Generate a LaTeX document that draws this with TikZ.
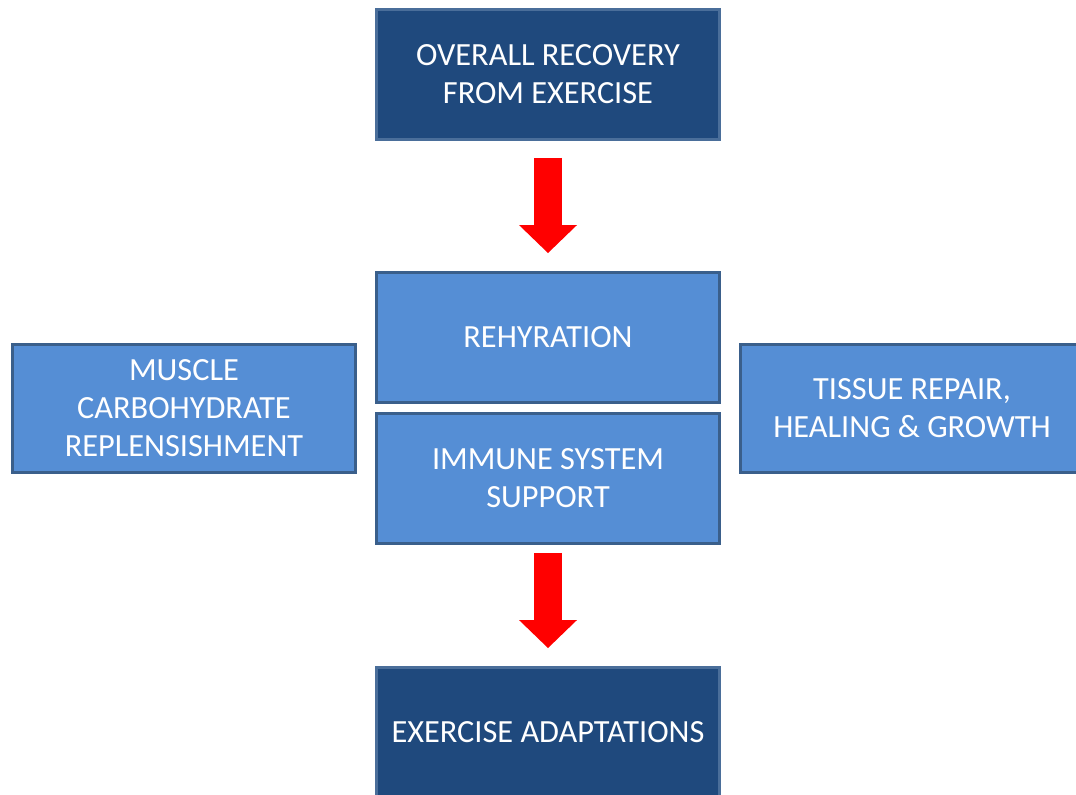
\documentclass[tikz,border=0pt]{standalone}
\usepackage{fontspec}
\setmainfont{Carlito}
\usetikzlibrary{arrows.meta, positioning}
\definecolor{boxdark}{HTML}{1F497D}
\definecolor{boxlight}{HTML}{558ED5}
\definecolor{boxedge}{HTML}{3A5F8B}
\definecolor{darkedge}{HTML}{4A6E9A}

\begin{document}
\begin{tikzpicture}[line width=2.1pt]
			\tikzstyle{stagebox}=[rectangle, draw=boxedge, fill=boxlight, text=white, align=center,
				minimum width=8.575cm, minimum height=3.25cm, inner sep=0pt,
				font=\fontsize{23}{27}\selectfont]
			\tikzstyle{endbox}=[stagebox, fill=boxdark, draw=darkedge]
			\tikzstyle{redarrow}=[draw=red, line width=0.7cm,
				-{Triangle[width=1.45cm, length=0.7cm, line width=0pt, fill=red]}]

			\clip (0,0) rectangle (26.9,19.85);
			\useasboundingbox (0,0) rectangle (26.9,19.85);

			\node[endbox] (recovery) at (13.7,17.9875) {OVERALL RECOVERY\\FROM EXERCISE};
			\node[stagebox] (rehydration) at (13.7,11.4125) {REHYRATION};
			\node[stagebox] (immune) at (13.7,7.8875) {IMMUNE SYSTEM\\SUPPORT};
			\node[stagebox, minimum height=3.2cm] (muscle) at (4.6,9.6375) {MUSCLE\\CARBOHYDRATE\\REPLENSISHMENT};
			\node[stagebox, minimum height=3.2cm] (tissue) at (22.8,9.6375) {TISSUE REPAIR,\\HEALING \& GROWTH};
			\node[endbox] (adaptations) at (13.7,1.5375) {EXERCISE ADAPTATIONS};

			\path[redarrow]
			(recovery) edge[shorten <=0.425cm, shorten >=0.45cm] (rehydration)
			(immune) edge[shorten <=0.2cm, shorten >=0.45cm] (adaptations);
		\end{tikzpicture}
\end{document}
